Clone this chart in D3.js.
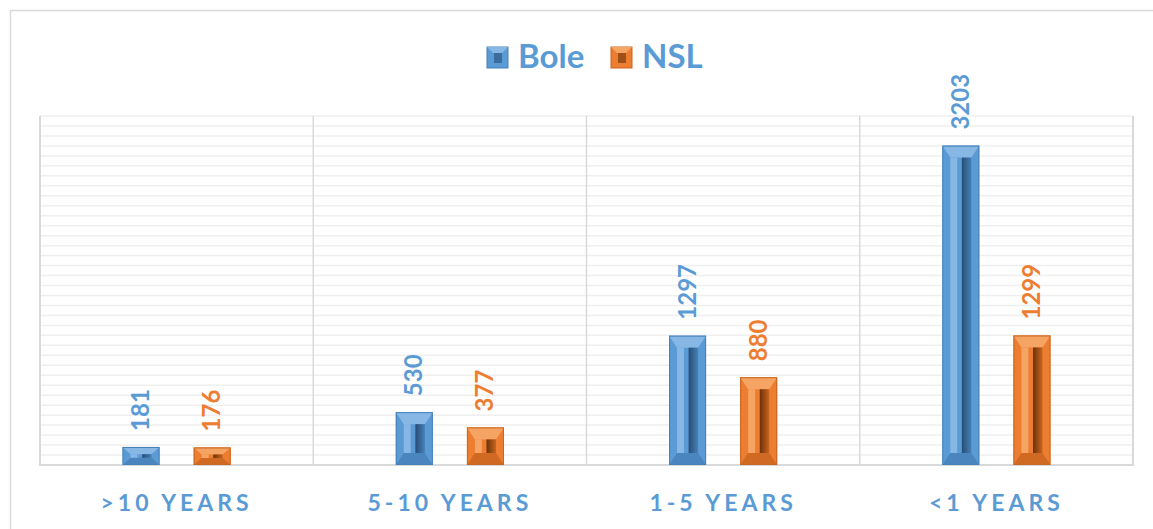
<!DOCTYPE html>
<html>
<head>
<meta charset="utf-8">
<script src="https://cdn.jsdelivr.net/npm/d3@7"></script>
<style>
  html, body { margin: 0; padding: 0; background: #fff; }
  svg { display: block; font-family: Lato, "Open Sans", sans-serif; }
</style>
</head>
<body>
<div id="chart"></div>
<script>
// data
const categories = ['>10 YEARS', '5-10 YEARS', '1-5 YEARS', '<1 YEARS'];
const seriesNames = ['Bole', 'NSL'];
const boleValues = [181, 530, 1297, 3203];
const nslValues  = [176, 377, 880, 1299];
const yMax = 3500, gridStep = 100;

const colors = {
  Bole: { base: '#5b9bd5', light: '#86b7e5', dark: '#274d75', mid: '#4780b8', text: '#5b9bd5' },
  NSL:  { base: '#ed7d31', light: '#f6a463', dark: '#6b3208', mid: '#c8651f', text: '#ed7d31' }
};

const W = 1153, H = 529;
const margin = { top: 116, right: 20, bottom: 64, left: 40 };
const IW = W - margin.left - margin.right,
      IH = H - margin.top - margin.bottom;

const svg = d3.select('#chart').append('svg').attr('width', W).attr('height', H);

// gradients for the dark inner strip
const defs = svg.append('defs');
seriesNames.forEach(s => {
  const grad = defs.append('linearGradient').attr('id', 'strip-' + s)
    .attr('x1', 0).attr('x2', 1).attr('y1', 0).attr('y2', 0);
  grad.append('stop').attr('offset', '0%').attr('stop-color', colors[s].dark);
  grad.append('stop').attr('offset', '100%').attr('stop-color', colors[s].mid);
});

// outer chart frame
svg.append('rect')
  .attr('x', 10.5).attr('y', 10.5).attr('width', W).attr('height', H)
  .attr('fill', 'none').attr('stroke', '#d9d9d9').attr('stroke-width', 1.5);

const g = svg.append('g').attr('transform', `translate(${margin.left},${margin.top})`);

const x = d3.scaleBand().domain(categories).range([0, IW]);
const xi = d3.scaleBand().domain(seriesNames).range([0, x.bandwidth()])
  .paddingInner(0.479).paddingOuter(1.16);
const y = d3.scaleLinear().domain([0, yMax]).range([IH, 0]);

// horizontal grid
g.append('g')
  .selectAll('line')
  .data(d3.range(gridStep, yMax + 1, gridStep))
  .join('line')
  .attr('x1', 0).attr('x2', IW)
  .attr('y1', d => y(d)).attr('y2', d => y(d))
  .attr('stroke', '#efefef').attr('stroke-width', 1.5);

// category separators
g.append('g')
  .selectAll('line')
  .data(categories.slice(1))
  .join('line')
  .attr('x1', d => x(d)).attr('x2', d => x(d))
  .attr('y1', 0).attr('y2', IH)
  .attr('stroke', '#d9d9d9').attr('stroke-width', 1.5);

// plot border (left, right, bottom)
g.append('path')
  .attr('d', `M0,0V${IH}H${IW}V0`)
  .attr('fill', 'none').attr('stroke', '#d9d9d9').attr('stroke-width', 2);

// bars with bevel
const rows = [];
categories.forEach((c, i) => {
  rows.push({ cat: c, s: 'Bole', v: boleValues[i] });
  rows.push({ cat: c, s: 'NSL', v: nslValues[i] });
});

rows.forEach(d => {
  const c = colors[d.s];
  const x0 = x(d.cat) + xi(d.s), w = xi.bandwidth();
  const y0 = y(d.v), y1 = y(0), h = y1 - y0;
  const bx = Math.min(8, w / 2), by = Math.min(12, h * 0.4);
  const bar = g.append('g');

  bar.append('rect').attr('x', x0).attr('y', y0).attr('width', w).attr('height', h)
    .attr('fill', c.base);
  // top bevel
  bar.append('path')
    .attr('d', `M${x0},${y0}H${x0 + w}L${x0 + w - bx},${y0 + by}H${x0 + bx}Z`)
    .attr('fill', c.light);
  // bottom bevel
  bar.append('path')
    .attr('d', `M${x0},${y1}H${x0 + w}L${x0 + w - bx},${y1 - by}H${x0 + bx}Z`)
    .attr('fill', c.mid).attr('opacity', 0.8);
  // inner light and dark strips
  if (h > 2 * by + 1) {
    const iw = w - 2 * bx;
    bar.append('rect').attr('x', x0 + bx).attr('y', y0 + by)
      .attr('width', iw * 0.33).attr('height', h - 2 * by).attr('fill', c.light);
    bar.append('rect').attr('x', x0 + bx + iw * 0.55).attr('y', y0 + by)
      .attr('width', iw * 0.45).attr('height', h - 2 * by).attr('fill', `url(#strip-${d.s})`);
  }
  bar.append('rect').attr('x', x0 + 0.5).attr('y', y0 + 0.5).attr('width', w - 1).attr('height', h - 1)
    .attr('fill', 'none').attr('stroke', c.mid).attr('stroke-width', 1);

  // rotated value label
  const lx = x0 + w / 2 + 8, ly = y0 - 16;
  g.append('text')
    .attr('transform', `translate(${lx},${ly}) rotate(-90)`)
    .attr('text-anchor', 'start')
    .attr('fill', c.text)
    .attr('font-size', 24).attr('font-weight', 'bold')
    .text(d.v);
});

// category labels
g.append('g')
  .selectAll('text')
  .data(categories)
  .join('text')
  .attr('x', d => x(d) + x.bandwidth() / 2)
  .attr('y', IH + 46)
  .attr('text-anchor', 'middle')
  .attr('fill', '#5b9bd5')
  .attr('font-size', 23).attr('font-weight', 'bold')
  .attr('letter-spacing', 4)
  .text(d => d);

// legend
const legend = svg.append('g').attr('transform', 'translate(487,47)');
const legX = { Bole: 0, NSL: 124 };
seriesNames.forEach(s => {
  const c = colors[s];
  const lg = legend.append('g').attr('transform', `translate(${legX[s]},0)`);
  lg.append('rect').attr('width', 21).attr('height', 21).attr('fill', c.base)
    .attr('stroke', c.mid);
  lg.append('path').attr('d', 'M0,0H21L15,6H6Z').attr('fill', c.light);
  lg.append('rect').attr('x', 7).attr('y', 6).attr('width', 8).attr('height', 10)
    .attr('fill', c.dark).attr('opacity', 0.6);
  lg.append('text').attr('x', 31).attr('y', 21)
    .attr('fill', '#5b9bd5').attr('font-size', 33).attr('font-weight', 'bold')
    .text(s);
});
</script>
</body>
</html>
